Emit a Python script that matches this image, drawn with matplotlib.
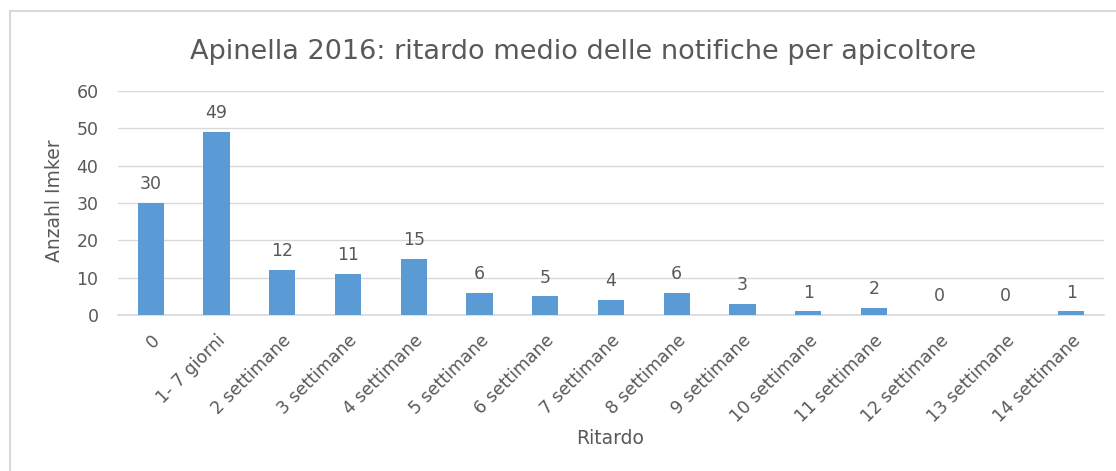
import matplotlib
matplotlib.use("Agg")
import matplotlib.pyplot as plt
from matplotlib.lines import Line2D

categories = ["0", "1- 7 giorni", "2 settimane", "3 settimane", "4 settimane",
              "5 settimane", "6 settimane", "7 settimane", "8 settimane",
              "9 settimane", "10 settimane", "11 settimane", "12 settimane",
              "13 settimane", "14 settimane"]
values = [30, 49, 12, 11, 15, 6, 5, 4, 6, 3, 1, 2, 0, 0, 1]
yticks = [0, 10, 20, 30, 40, 50, 60]

plt.rcParams['font.family'] = ['DejaVu Sans']
TXT = '#595959'

W, H = 1116, 471
fig = plt.figure(figsize=(W / 100, H / 100), dpi=100)
ax = fig.add_axes([118 / W, 1 - 315 / H, (1104 - 118) / W, (315 - 91) / H])

x = list(range(len(categories)))
ax.bar(x, values, width=0.4, color='#5B9BD5', zorder=3)
for xi, v in zip(x, values):
    ax.annotate(str(v), (xi, v), xytext=(0, 7), textcoords='offset points',
                ha='center', va='bottom', fontsize=12.5, color=TXT)

ax.set_xlim(-0.5, len(categories) - 0.5)
ax.set_ylim(0, 60)
ax.set_yticks(yticks)
ax.set_yticklabels([str(t) for t in yticks], fontsize=12.5, color=TXT)
ax.set_xticks(x)
ax.set_xticklabels(categories, rotation=45, ha='right', rotation_mode='anchor',
                   fontsize=12.5, color=TXT)
ax.tick_params(axis='y', length=0, pad=14)
ax.tick_params(axis='x', length=0, pad=12)
ax.grid(axis='y', color='#D9D9D9', linewidth=1, zorder=0)
for s in ['top', 'right', 'left']:
    ax.spines[s].set_visible(False)
ax.spines['bottom'].set_color('#D9D9D9')
ax.spines['bottom'].set_linewidth(1.2)

fig.text(55 / W, 1 - 201 / H, 'Anzahl Imker', fontsize=13.5, color=TXT,
         ha='center', va='center', rotation=90)
fig.text(610 / W, 1 - 439 / H, 'Ritardo', fontsize=13.5, color=TXT, ha='center', va='center')
fig.text(583 / W, 1 - 52 / H, 'Apinella 2016: ritardo medio delle notifiche per apicoltore',
         fontsize=19.5, color=TXT, ha='center', va='center')

# chart border (left and top visible)
fig.add_artist(Line2D([9.5 / W, 9.5 / W], [0, 1 - 11 / H], transform=fig.transFigure,
                      color='#D9D9D9', linewidth=1.5))
fig.add_artist(Line2D([9.5 / W, 1], [1 - 11 / H, 1 - 11 / H], transform=fig.transFigure,
                      color='#D9D9D9', linewidth=1.5))

fig.savefig('out.png', dpi=100)
